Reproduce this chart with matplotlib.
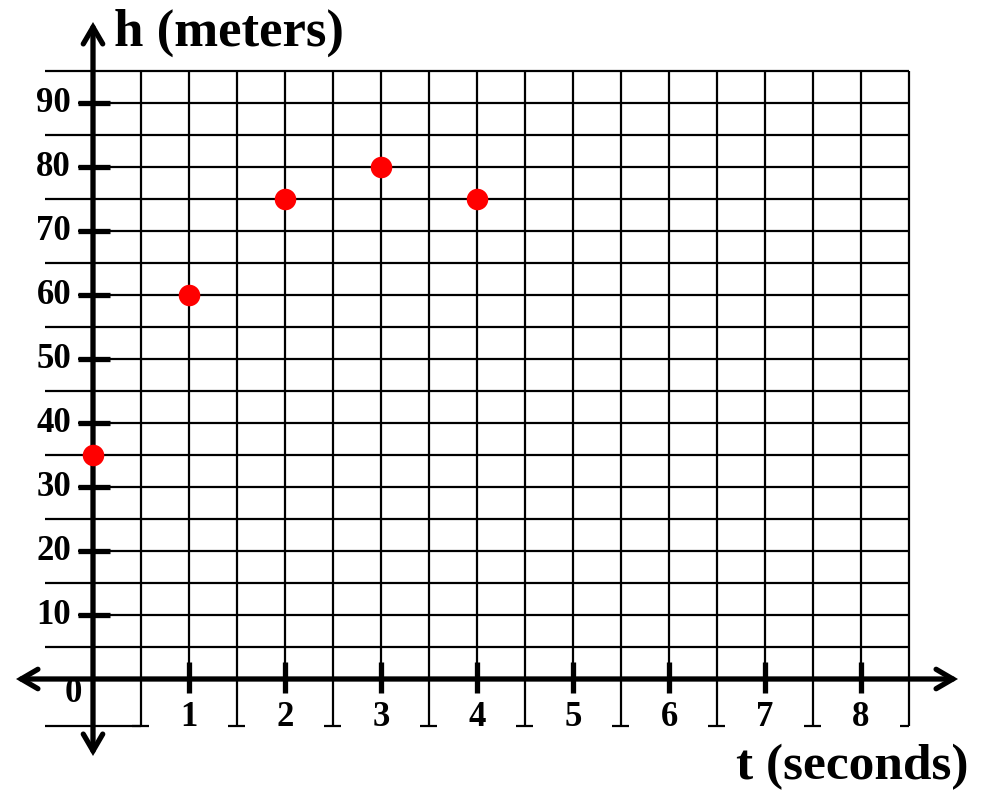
import numpy as np
import matplotlib
matplotlib.use("Agg")
import matplotlib.pyplot as plt

# Height of the object at each second
t_values = [0, 1, 2, 3, 4]
h_values = [35, 60, 75, 80, 75]

x_tick_labels = [1, 2, 3, 4, 5, 6, 7, 8]
y_tick_labels = [10, 20, 30, 40, 50, 60, 70, 80, 90]

W, H = 983, 790
fig = plt.figure(figsize=(W / 100, H / 100), dpi=100)
ax = fig.add_axes([0, 0, 1, 1])
ax.set_axis_off()

# pixel mapping: t -> 93 + 96 t, h -> 679 - 6.4 h (from top)
px_t, px_h = 96.0, 6.4
x0, y0 = 93.0, 679.0
ax.set_xlim(-x0 / px_t, (W - x0) / px_t)
ax.set_ylim((y0 - H) / px_h, y0 / px_h)

font = dict(family=["Liberation Serif", "DejaVu Serif"], fontweight="bold")
grid_kw = dict(color="black", lw=1.6, solid_capstyle="butt", zorder=1)

t_max = 8.5
h_top = 95
h_bot = -7.3
foot = 0.095
tick_left = (78 - x0) / px_t

# horizontal grid lines; labelled rows start at the tick mark
for h in np.arange(5, 100, 5):
    start = tick_left if h % 10 == 0 else -0.5
    ax.plot([start, t_max], [h, h], **grid_kw)

# vertical grid lines: whole seconds stop at the time axis,
# half seconds continue below with a short foot
for t in np.arange(0.5, t_max + 0.01, 0.5):
    if abs(t - round(t)) < 1e-9:
        ax.plot([t, t], [0, h_top], **grid_kw)
    else:
        ax.plot([t, t], [h_bot, h_top], **grid_kw)
        right = min(t + foot * 0.85, t_max)
        ax.plot([t - foot, right], [h_bot, h_bot], **grid_kw)
# bottom edge segment under the origin
ax.plot([-0.5, 0.5], [h_bot, h_bot], **grid_kw)

# main axes with arrowheads
axis_lw = 3.8
arrow_kw = dict(arrowstyle="<->,head_length=0.6,head_width=0.35",
                lw=axis_lw, color="black", shrinkA=0, shrinkB=0,
                mutation_scale=20, joinstyle="miter", capstyle="round")
ax.annotate("", xy=(0, (y0 - 22) / px_h), xytext=(0, (y0 - 756) / px_h),
            arrowprops=arrow_kw, zorder=3)
ax.annotate("", xy=((958 - x0) / px_t, 0), xytext=((16 - x0) / px_t, 0),
            arrowprops=arrow_kw, zorder=3)

# tick marks and labels
for h in y_tick_labels:
    ax.plot([tick_left, (110 - x0) / px_t], [h, h], color="black",
            lw=3.8, solid_capstyle="butt", zorder=3)
    ax.text((71 - x0) / px_t, h, str(h), ha="right", va="center",
            fontsize=25, **font)
for t in x_tick_labels:
    ax.plot([t, t], [(y0 - 662) / px_h, (y0 - 693) / px_h], color="black",
            lw=3.8, solid_capstyle="butt", zorder=3)
    ax.text(t, (y0 - 717) / px_h, str(t), ha="center", va="center",
            fontsize=25, **font)
ax.text((73 - x0) / px_t, (y0 - 694) / px_h, "0", ha="center", va="center",
        fontsize=25, **font)

# axis titles
ax.text((114 - x0) / px_t, (y0 - 33) / px_h, "h (meters)", ha="left",
        va="center", fontsize=38, **font)
ax.text((968 - x0) / px_t, (y0 - 767) / px_h, "t (seconds)", ha="right",
        va="center", fontsize=37, **font)

# data points
ax.plot(t_values, h_values, "o", color="#ff0000", markersize=15.5,
        markeredgewidth=0, zorder=5)

fig.savefig("out.png", dpi=100)
